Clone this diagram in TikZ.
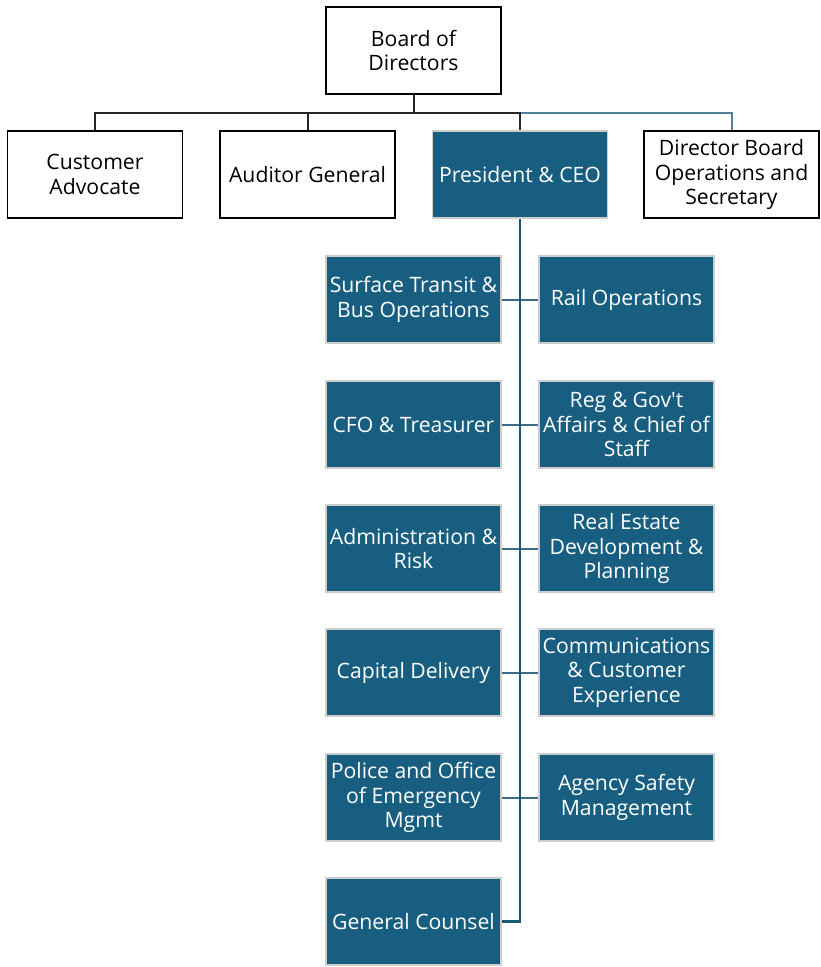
\documentclass[tikz,border=0pt]{standalone}
\usepackage{fontspec}
\setmainfont{Open Sans}
\definecolor{boxblue}{RGB}{23,94,128}
\definecolor{trunkc}{RGB}{28,88,118}
\definecolor{tiec}{RGB}{62,108,134}
\definecolor{busblue}{RGB}{78,128,152}
\definecolor{edgegray}{RGB}{205,205,205}
\begin{document}
\begin{tikzpicture}[x=1pt,y=-1pt,
  every node/.style={font=\fontsize{21.2}{24.5}\selectfont, align=center, inner sep=0pt},
  wbox/.style={draw=black, line width=1.8pt, fill=white, minimum width=175pt, minimum height=87pt, text=black},
  bbox/.style={draw=edgegray, line width=1.3pt, fill=boxblue, minimum width=175pt, minimum height=87pt, text=white},
  blk/.style={draw=black!85, line width=2pt},
  trunk/.style={draw=trunkc, line width=2.2pt},
  tie/.style={draw=tiec, line width=2pt},
  busb/.style={draw=busblue, line width=2pt}]
\useasboundingbox (0,0) rectangle (820,967);
\coordinate (bus) at (413.5,113);
% top level
\node[wbox] (board) at (413.5,50.5) {Board of\\Directors};
\node[wbox] (ca) at (95,174.5) {Customer\\Advocate};
\node[wbox] (ag) at (307.5,174.5) {Auditor General};
\node[bbox] (ceo) at (520,174.5) {President \& CEO};
\node[wbox] (dbo) at (731.5,174.5) {Director Board\\Operations and\\Secretary};
% second level
\node[bbox] (st) at (413.5,299.5) {Surface Transit \&\\Bus Operations};
\node[bbox] (rail) at (626.5,299.5) {Rail Operations};
\node[bbox] (cfo) at (413.5,424.5) {CFO \& Treasurer};
\node[bbox] (reg) at (626.5,424.5) {Reg \& Gov\textquotesingle t\\Affairs \& Chief of\\Staff};
\node[bbox] (adm) at (413.5,548.5) {Administration \&\\Risk};
\node[bbox] (red) at (626.5,548.5) {Real Estate\\Development \&\\Planning};
\node[bbox] (cap) at (413.5,672.5) {Capital Delivery};
\node[bbox] (com) at (626.5,672.5) {Communications\\\& Customer\\Experience};
\node[bbox] (pol) at (413.5,797.5) {Police and Office\\of Emergency\\Mgmt};
\node[bbox] (asm) at (626.5,797.5) {Agency Safety\\Management};
\node[bbox] (gc) at (413.5,921.5) {General Counsel};
% connectors top
\draw[busb] (bus) -| (dbo.north);
\draw[blk] (board.south) -- (bus) -| (ca.north);
\draw[blk] (bus) -| (ag.north);
\draw[blk] (bus) -| (ceo.north);
% ties
\draw[tie] (st.east) -- (rail.west);
\draw[tie] (cfo.east) -- (reg.west);
\draw[tie] (adm.east) -- (red.west);
\draw[tie] (cap.east) -- (com.west);
\draw[tie] (pol.east) -- (asm.west);
\draw[trunk] (ceo.south) |- (gc.east);
\end{tikzpicture}
\end{document}
